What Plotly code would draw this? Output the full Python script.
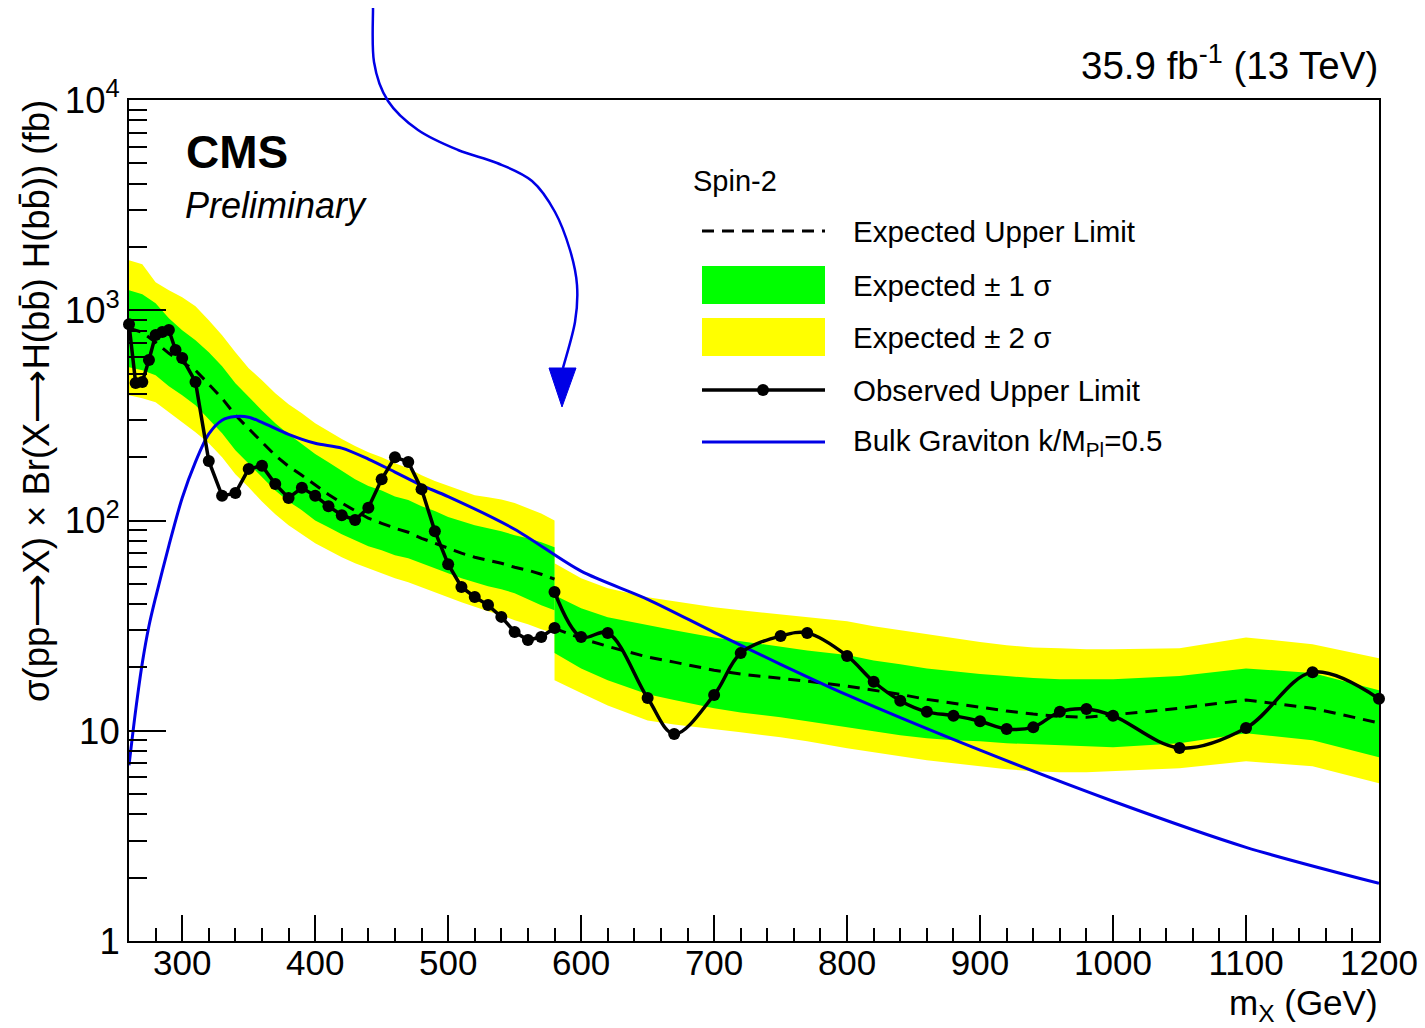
import plotly.graph_objects as go

# ---------------- data ----------------
mass_obs_low = [260, 265, 270, 275, 280, 285, 290, 295, 300, 310, 320, 330, 340, 350, 360,
                370, 380, 390, 400, 410, 420, 430, 440, 450, 460, 470, 480, 490, 500, 510,
                520, 530, 540, 550, 560, 570, 580]
obs_low = [858, 451, 456, 580, 763, 788, 805, 647, 593, 456, 192, 131, 135, 176, 182,
           149, 128, 143, 131, 117, 106, 100.6, 115, 157, 200, 190, 141, 89, 62, 48.3,
           43.3, 39.6, 34.8, 29.5, 27.0, 27.9, 30.8]

mass_low = [260, 270, 280, 290, 300, 310, 320, 330, 340, 350, 360, 370, 380, 390, 400, 410,
            420, 430, 440, 450, 460, 470, 480, 490, 500, 510, 520, 530, 540, 550, 560, 570, 580]
exp_low = [821, 786, 704, 624, 566, 518, 445, 381, 317, 275, 236, 204, 181, 164, 147, 133,
           121, 111, 102.5, 97.0, 91.9, 87.9, 82.3, 78.0, 73.8, 69.9, 66.9, 64.7, 62.6, 59.9,
           58.0, 55.5, 52.6]
p1s_low = [1245, 1192, 1080, 916, 803, 720, 631, 542, 450, 386, 334, 290, 257, 231, 207, 189,
           172, 157, 146, 139, 130, 125, 117, 111, 104, 99.2, 94.9, 91.9, 88.9, 85.1, 82.3,
           78.8, 74.6]
m1s_low = [536, 518, 491, 435, 394, 353, 303, 260, 216, 187, 161, 139, 123, 112, 100, 92.9,
           86.0, 80.5, 75.4, 72.2, 68.4, 66.1, 62.6, 59.3, 56.1, 53.1, 50.8, 48.7, 47.1, 45.1,
           42.2, 39.5, 37.4]
p2s_low = [1729, 1655, 1359, 1245, 1153, 1045, 896, 761, 631, 530, 465, 403, 357, 324, 290,
           266, 244, 226, 211, 200, 187, 177, 164, 154, 146, 139, 132, 129, 126, 121, 114,
           108, 100]
m2s_low = [394, 381, 365, 327, 293, 263, 233, 200, 166, 144, 123, 107, 94.9, 86.0, 78.0, 72.2,
           66.9, 62.6, 59.3, 56.1, 53.1, 50.8, 48.1, 45.6, 43.1, 40.8, 38.7, 37.0, 35.4, 33.5,
           32.1, 30.4, 29.1]

mass_high = [580, 600, 620, 650, 670, 700, 720, 750, 770, 800, 820, 840, 860, 880, 900, 920,
             940, 960, 980, 1000, 1050, 1100, 1150, 1200]
obs_high = [45.7, 27.9, 29.2, 14.3, 9.65, 14.8, 23.4, 28.2, 29.2, 22.7, 17.1, 13.9, 12.3,
            11.8, 11.1, 10.2, 10.4, 12.3, 12.7, 11.8, 8.28, 10.3, 19.0, 14.2]
exp_high = [30.7, 27.5, 25.2, 22.4, 21.2, 19.4, 18.6, 17.8, 17.2, 16.3, 15.6, 14.9, 14.1,
            13.5, 12.9, 12.4, 12.0, 11.7, 11.6, 11.9, 12.8, 14.0, 12.8, 10.9]
p1s_high = [44.1, 38.2, 34.7, 31.8, 30.1, 27.8, 26.7, 25.2, 24.1, 22.9, 21.6, 20.7, 19.8,
            19.2, 18.6, 18.2, 17.8, 17.6, 17.6, 17.6, 18.2, 19.8, 18.8, 15.6]
m1s_high = [23.4, 19.8, 17.4, 14.9, 14.0, 12.8, 12.2, 11.6, 11.1, 10.4, 9.95, 9.52, 9.21,
            9.01, 8.92, 8.72, 8.63, 8.53, 8.44, 8.35, 8.72, 9.73, 9.01, 7.48]
p2s_high = [62.6, 53.1, 47.6, 43.1, 41.3, 38.7, 37.4, 35.8, 34.7, 33.2, 31.4, 30.1, 28.8,
            27.5, 26.4, 25.5, 24.9, 24.7, 24.4, 24.4, 24.7, 27.8, 25.8, 22.1]
m2s_high = [17.4, 15.1, 13.2, 11.2, 10.7, 10.2, 9.84, 9.31, 8.92, 8.26, 7.90, 7.56, 7.24,
            7.01, 6.78, 6.56, 6.42, 6.35, 6.35, 6.42, 6.63, 7.16, 6.78, 5.63]

mass_grav = [260, 265, 270, 275, 280, 290, 300, 310, 320, 330, 340, 350, 360, 380, 400, 420,
             440, 460, 480, 500, 550, 600, 650, 700, 750, 800, 900, 1000, 1100, 1200]
xsec_grav = [6.85, 12.5, 21.0, 31.5, 43.0, 76.0, 128, 190, 258, 300, 312, 310, 293, 257, 233,
             221, 196, 170, 147, 130, 90.9, 57.4, 42.2, 29.4, 20.7, 14.8, 8.08, 4.62, 2.79, 1.88]

x_tickvals = [300, 400, 500, 600, 700, 800, 900, 1000, 1100, 1200]
y_tickvals = [1, 10, 100, 1000, 10000]
y_ticktext = ["1", "10", "10<sup>2</sup>", "10<sup>3</sup>", "10<sup>4</sup>"]

legend_labels = ["Expected Upper Limit", "Expected \u00b1 1 \u03c3", "Expected \u00b1 2 \u03c3",
                 "Observed Upper Limit", "Bulk Graviton k/M<sub>Pl</sub>=0.5"]

# ---------------- styling / geometry ----------------
W, H = 1425, 1028
ML, MR, MT, MB = 129, 46, 100, 87
PW, PH = W - ML - MR, H - MT - MB
FONT = "Liberation Sans, Arial, Helvetica, sans-serif"
GREEN, YELLOW, BLUE = "#00ff00", "#ffff00", "#0000e6"


def fx(p):
    return (p - ML) / PW


def fy(p):
    return (H - MB - p) / PH


fig = go.Figure()


def band(xs, up, dn, color):
    fig.add_trace(go.Scatter(x=list(xs) + list(xs)[::-1], y=list(up) + list(dn)[::-1],
                             mode="lines", fill="toself", fillcolor=color,
                             line=dict(width=0, color=color), hoverinfo="skip",
                             showlegend=False))


band(mass_low, p2s_low, m2s_low, YELLOW)
band(mass_high, p2s_high, m2s_high, YELLOW)
band(mass_low, p1s_low, m1s_low, GREEN)
band(mass_high, p1s_high, m1s_high, GREEN)

for xs, ys in [(mass_low, exp_low), (mass_high, exp_high)]:
    fig.add_trace(go.Scatter(x=xs, y=ys, mode="lines",
                             line=dict(color="black", width=3, dash="12px,8px"),
                             showlegend=False))

fig.add_trace(go.Scatter(x=mass_grav, y=xsec_grav, mode="lines",
                         line=dict(color=BLUE, width=3, shape="spline", smoothing=0.8),
                         showlegend=False))

fig.add_trace(go.Scatter(x=mass_obs_low, y=obs_low, mode="lines+markers",
                         line=dict(color="black", width=3.5),
                         marker=dict(color="black", size=12), cliponaxis=False,
                         showlegend=False))
fig.add_trace(go.Scatter(x=mass_high, y=obs_high, mode="lines+markers",
                         line=dict(color="black", width=3.5, shape="spline", smoothing=1.0),
                         marker=dict(color="black", size=12), cliponaxis=False,
                         showlegend=False))

# ---------------- legend (drawn manually, ROOT style) ----------------
shapes = []
annotations = []
lx0, lx1, ltx = 702, 825, 851
rows = [231, 285, 337, 390, 442]
shapes.append(dict(type="line", xref="paper", yref="paper", x0=fx(lx0), x1=fx(lx1),
                   y0=fy(rows[0]), y1=fy(rows[0]),
                   line=dict(color="black", width=3, dash="12px,8px")))
shapes.append(dict(type="rect", xref="paper", yref="paper", x0=fx(lx0), x1=fx(lx1),
                   y0=fy(rows[1] - 19), y1=fy(rows[1] + 19), fillcolor=GREEN,
                   line=dict(width=0)))
shapes.append(dict(type="rect", xref="paper", yref="paper", x0=fx(lx0), x1=fx(lx1),
                   y0=fy(rows[2] - 19), y1=fy(rows[2] + 19), fillcolor=YELLOW,
                   line=dict(width=0)))
shapes.append(dict(type="line", xref="paper", yref="paper", x0=fx(lx0), x1=fx(lx1),
                   y0=fy(rows[3]), y1=fy(rows[3]), line=dict(color="black", width=3.5)))
shapes.append(dict(type="circle", xref="paper", yref="paper", x0=fx(757), x1=fx(769),
                   y0=fy(384), y1=fy(396), fillcolor="black", line=dict(width=0)))
shapes.append(dict(type="line", xref="paper", yref="paper", x0=fx(lx0), x1=fx(lx1),
                   y0=fy(rows[4]), y1=fy(rows[4]), line=dict(color=BLUE, width=3)))
for r, lab in zip(rows, legend_labels):
    annotations.append(dict(text=lab, xref="paper", yref="paper", x=fx(ltx), y=fy(r),
                            xanchor="left", yanchor="middle", showarrow=False,
                            font=dict(family=FONT, size=29.5, color="black")))
annotations.append(dict(text="Spin-2", xref="paper", yref="paper", x=fx(691), y=fy(181),
                        xanchor="left", yanchor="middle", showarrow=False,
                        font=dict(family=FONT, size=29, color="black")))

# ---------------- hand-drawn blue arrow ----------------
arrow_pts = [(373, 8), (374, 62), (388, 101), (418, 130), (458, 150), (497, 163),
             (532, 181), (555, 212), (570, 250), (577, 285), (575, 322), (563, 368)]
P = [(fx(a), fy(b)) for a, b in arrow_pts]
path = "M {:.5f},{:.5f}".format(*P[0])
for i in range(len(P) - 1):
    p0 = P[i - 1] if i > 0 else P[i]
    p1, p2 = P[i], P[i + 1]
    p3 = P[i + 2] if i + 2 < len(P) else P[i + 1]
    c1 = (p1[0] + (p2[0] - p0[0]) / 6, p1[1] + (p2[1] - p0[1]) / 6)
    c2 = (p2[0] - (p3[0] - p1[0]) / 6, p2[1] - (p3[1] - p1[1]) / 6)
    path += " C {:.5f},{:.5f} {:.5f},{:.5f} {:.5f},{:.5f}".format(*c1, *c2, *p2)
shapes.append(dict(type="path", xref="paper", yref="paper", path=path,
                   line=dict(color=BLUE, width=2.5)))
tri = [(549, 368), (576, 368), (562, 407)]
T = [(fx(a), fy(b)) for a, b in tri]
shapes.append(dict(type="path", xref="paper", yref="paper",
                   path="M {:.5f},{:.5f} L {:.5f},{:.5f} L {:.5f},{:.5f} Z".format(*T[0], *T[1], *T[2]),
                   fillcolor=BLUE, line=dict(color=BLUE, width=1)))

# ---------------- texts ----------------
annotations += [
    dict(text="<b>CMS</b>", x=fx(184), y=fy(152), xanchor="left", yanchor="middle",
         font=dict(family=FONT, size=46, color="black")),
    dict(text="<i>Preliminary</i>", x=fx(183), y=fy(205), xanchor="left", yanchor="middle",
         font=dict(family=FONT, size=36, color="black")),
    dict(text="35.9 fb<sup>-1</sup> (13 TeV)", x=fx(1380), y=fy(63), xanchor="right",
         yanchor="middle", font=dict(family=FONT, size=38.5, color="black")),
    dict(text="\u03c3(pp\u27f6X) \u00d7 Br(X\u27f6H(bb\u0304) H(bb\u0304)) (fb)", x=fx(37),
         y=fy(98), xanchor="center", yanchor="top", textangle=-90,
         font=dict(family=FONT, size=36.5, color="black")),
    dict(text="m<sub>X</sub> (GeV)", x=fx(1380), y=fy(1005), xanchor="right",
         yanchor="middle", font=dict(family=FONT, size=35, color="black")),
]
for a in annotations:
    a.setdefault("xref", "paper")
    a.setdefault("yref", "paper")
    a["showarrow"] = False

fig.update_layout(
    width=W, height=H,
    margin=dict(l=ML, r=MR, t=MT, b=MB, pad=0, autoexpand=False),
    paper_bgcolor="white", plot_bgcolor="white",
    showlegend=False,
    shapes=shapes, annotations=annotations,
    xaxis=dict(range=[260, 1200], showgrid=False, zeroline=False, automargin=False,
               showline=True, linecolor="black", linewidth=2, mirror=True,
               ticks="inside", ticklen=26, tickwidth=1.5, tickcolor="black",
               tickmode="array", tickvals=x_tickvals, ticklabelstandoff=-10,
               minor=dict(ticks="inside", ticklen=13, tickwidth=1.5, tickcolor="black",
                          dtick=20, tick0=0, showgrid=False),
               tickfont=dict(family=FONT, size=35, color="black")),
    yaxis=dict(type="log", range=[0, 4], showgrid=False, zeroline=False, automargin=False,
               showline=True, linecolor="black", linewidth=2, mirror=True,
               ticks="inside", ticklen=37, tickwidth=1.5, tickcolor="black",
               tickmode="array", tickvals=y_tickvals, ticktext=y_ticktext,
               minor=dict(ticks="inside", ticklen=18, tickwidth=1.5, tickcolor="black",
                          dtick="D1", showgrid=False),
               tickfont=dict(family=FONT, size=36.5, color="black")),
)

fig.write_html("out.html")
